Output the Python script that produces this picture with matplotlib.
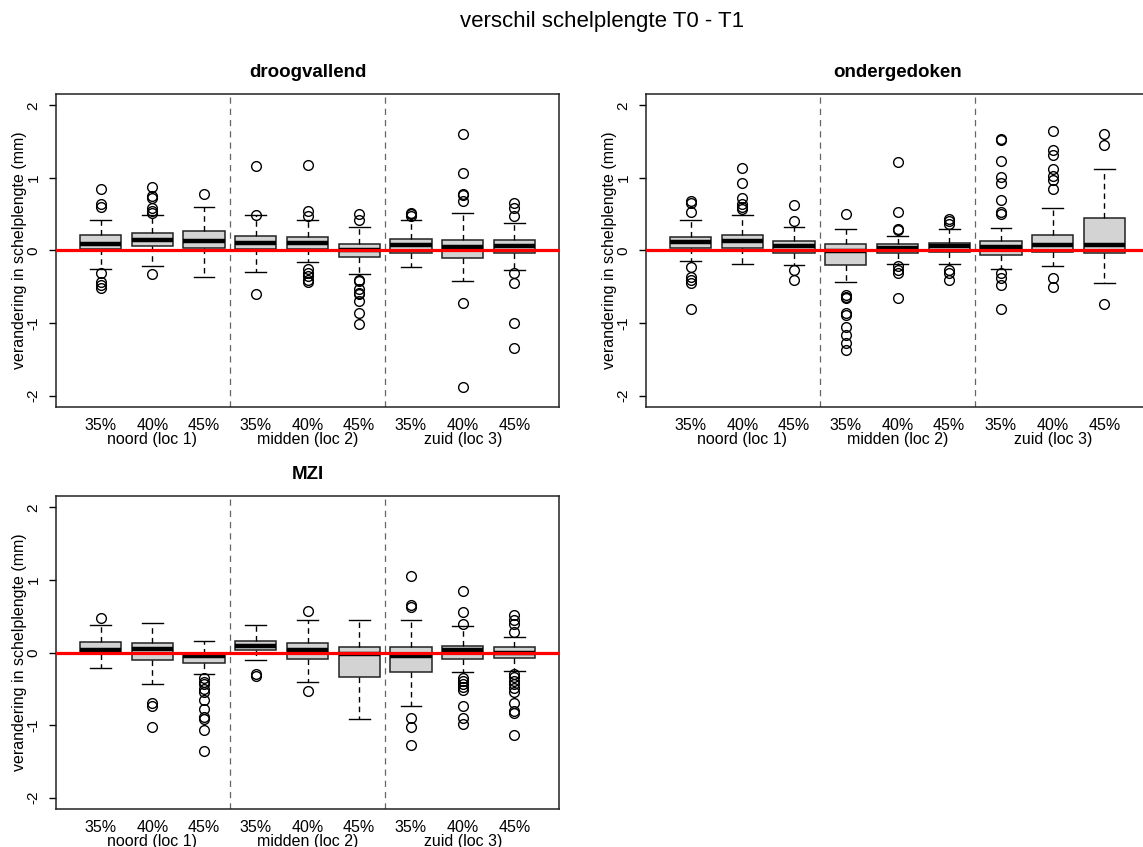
import matplotlib
matplotlib.use("Agg")
import matplotlib.pyplot as plt
import matplotlib.transforms as mtransforms

plt.rcParams['font.family'] = ['Liberation Sans', 'DejaVu Sans']

pct_labels = ['35%', '40%', '45%', '35%', '40%', '45%', '35%', '40%', '45%']
loc_labels = ['noord (loc 1)', 'midden (loc 2)', 'zuid (loc 3)']

# droogvallend
droog_q1 = [0.02, 0.06, 0.03, 0.02, 0.02, -0.09, -0.03, -0.11, -0.03]
droog_med = [0.09, 0.145, 0.13, 0.11, 0.10, 0.01, 0.075, 0.05, 0.06]
droog_q3 = [0.22, 0.24, 0.27, 0.20, 0.19, 0.09, 0.16, 0.145, 0.145]
droog_lo = [-0.25, -0.21, -0.36, -0.29, -0.16, -0.32, -0.23, -0.42, -0.27]
droog_hi = [0.42, 0.49, 0.60, 0.49, 0.42, 0.33, 0.42, 0.51, 0.38]
droog_out = [
    [0.85, 0.64, 0.60, -0.31, -0.43, -0.47, -0.51],
    [0.87, 0.75, 0.72, 0.58, 0.55, 0.52, -0.32],
    [0.78],
    [1.16, 0.49, -0.60],
    [1.18, 0.54, 0.48, -0.26, -0.31, -0.35, -0.41, -0.44],
    [0.50, 0.42, -0.40, -0.42, -0.53, -0.58, -0.60, -0.70, -0.86, -1.01],
    [0.52, 0.50, 0.48],
    [1.61, 1.07, 0.78, 0.76, 0.68, -0.73, -1.88],
    [0.66, 0.58, 0.47, -0.31, -0.45, -1.00, -1.34],
]

# ondergedoken
onder_q1 = [0.03, 0.04, -0.035, -0.20, -0.03, -0.015, -0.06, -0.015, -0.035]
onder_med = [0.12, 0.135, 0.06, -0.01, 0.03, 0.06, 0.05, 0.075, 0.075]
onder_q3 = [0.185, 0.22, 0.13, 0.09, 0.09, 0.11, 0.13, 0.22, 0.45]
onder_lo = [-0.145, -0.18, -0.20, -0.43, -0.18, -0.18, -0.25, -0.21, -0.45]
onder_hi = [0.42, 0.49, 0.33, 0.29, 0.20, 0.29, 0.31, 0.58, 1.12]
onder_out = [
    [0.68, 0.65, 0.53, -0.23, -0.37, -0.41, -0.45, -0.81],
    [1.14, 0.93, 0.72, 0.64, 0.60, 0.57],
    [0.62, 0.40, -0.27, -0.40],
    [0.50, -0.61, -0.64, -0.66, -0.86, -0.89, -1.06, -1.17, -1.27, -1.37],
    [1.22, 0.53, 0.30, 0.28, -0.21, -0.27, -0.31, -0.66],
    [0.43, 0.41, 0.36, -0.27, -0.31, -0.41],
    [1.54, 1.52, 1.23, 1.01, 0.93, 0.69, 0.53, 0.50, -0.31, -0.38, -0.48, -0.81],
    [1.65, 1.38, 1.31, 1.12, 1.02, 0.97, 0.85, -0.38, -0.50],
    [1.60, 1.45, -0.74],
]

# MZI
mzi_q1 = [-0.02, -0.11, -0.15, 0.03, -0.09, -0.34, -0.27, -0.09, -0.07]
mzi_med = [0.04, 0.045, -0.05, 0.09, 0.03, -0.015, -0.05, 0.03, 0.0]
mzi_q3 = [0.14, 0.13, -0.015, 0.165, 0.13, 0.07, 0.07, 0.09, 0.07]
mzi_lo = [-0.22, -0.43, -0.30, -0.11, -0.41, -0.92, -0.74, -0.27, -0.25]
mzi_hi = [0.38, 0.40, 0.165, 0.38, 0.45, 0.45, 0.45, 0.37, 0.22]
mzi_out = [
    [0.47],
    [-0.69, -0.74, -1.03],
    [-0.35, -0.40, -0.44, -0.50, -0.55, -0.65, -0.78, -0.89, -0.92, -1.07, -1.35],
    [-0.30, -0.32],
    [0.57, -0.53],
    [],
    [1.05, 0.66, 0.62, -0.90, -1.03, -1.27],
    [0.85, 0.56, 0.39, -0.35, -0.39, -0.43, -0.48, -0.51, -0.74, -0.90, -0.99],
    [0.51, 0.45, 0.39, 0.28, -0.29, -0.34, -0.39, -0.43, -0.49, -0.55, -0.70, -0.81, -0.83, -1.14],
]


def make_stats(q1, med, q3, lo, hi, out):
    stats = []
    for i in range(len(med)):
        stats.append(dict(q1=q1[i], med=med[i], q3=q3[i],
                          whislo=lo[i], whishi=hi[i], fliers=out[i]))
    return stats


def draw_panel(ax, title, stats):
    pos = list(range(1, len(stats) + 1))
    ax.bxp(stats, positions=pos, widths=0.8, capwidths=0.4, patch_artist=True,
           showfliers=True,
           boxprops=dict(facecolor='#d3d3d3', edgecolor='#222222', linewidth=1.1),
           medianprops=dict(color='black', linewidth=3.2, solid_capstyle='butt'),
           whiskerprops=dict(color='black', linewidth=1.0, linestyle=(0, (4, 3))),
           capprops=dict(color='black', linewidth=1.0),
           flierprops=dict(marker='o', markerfacecolor='none', markeredgecolor='black',
                           markersize=7, markeredgewidth=1.0))
    ax.axhline(0, color='red', linewidth=2.3, zorder=5)
    for xv in [3.5, 6.5]:
        ax.axvline(xv, color='#666666', linewidth=0.9, linestyle=(0, (5, 4)))
    ax.set_xlim(0.14, 9.86)
    ax.set_ylim(-2.16, 2.16)
    ax.set_yticks([-2, -1, 0, 1, 2])
    ax.set_yticklabels(['-2', '-1', '0', '1', '2'], rotation=90, va='center', fontsize=11)
    ax.set_xticks(pos)
    ax.set_xticklabels(pct_labels, fontsize=11.5)
    ax.tick_params(axis='x', length=0, pad=8)
    ax.tick_params(axis='y', length=5, width=1, pad=6)
    for s in ax.spines.values():
        s.set_linewidth(1.1)
        s.set_color('#222222')
    ax.set_ylabel('verandering in schelplengte (mm)', fontsize=11.5, labelpad=0)
    ax.set_title(title, fontweight='bold', fontsize=13.5, pad=12)
    trans = mtransforms.blended_transform_factory(ax.transData, ax.transAxes)
    for xc, lab in zip([2, 5, 8], loc_labels):
        ax.text(xc, -0.102, lab, transform=trans, ha='center', va='center', fontsize=11.5)


fig = plt.figure(figsize=(11.43, 8.47), dpi=100)
W, H = 1143.0, 847.0
ax1 = fig.add_axes([56 / W, 1 - 407.3 / H, 503 / W, 313.6 / H])
ax2 = fig.add_axes([646 / W, 1 - 407.3 / H, 503 / W, 313.6 / H])
ax3 = fig.add_axes([56 / W, 1 - 809.3 / H, 503 / W, 313.6 / H])

draw_panel(ax1, 'droogvallend', make_stats(droog_q1, droog_med, droog_q3, droog_lo, droog_hi, droog_out))
draw_panel(ax2, 'ondergedoken', make_stats(onder_q1, onder_med, onder_q3, onder_lo, onder_hi, onder_out))
draw_panel(ax3, 'MZI', make_stats(mzi_q1, mzi_med, mzi_q3, mzi_lo, mzi_hi, mzi_out))

fig.text(602 / W, 1 - 21 / H, 'verschil schelplengte T0 - T1', ha='center', va='center', fontsize=16)

fig.savefig('out.png', dpi=100)
